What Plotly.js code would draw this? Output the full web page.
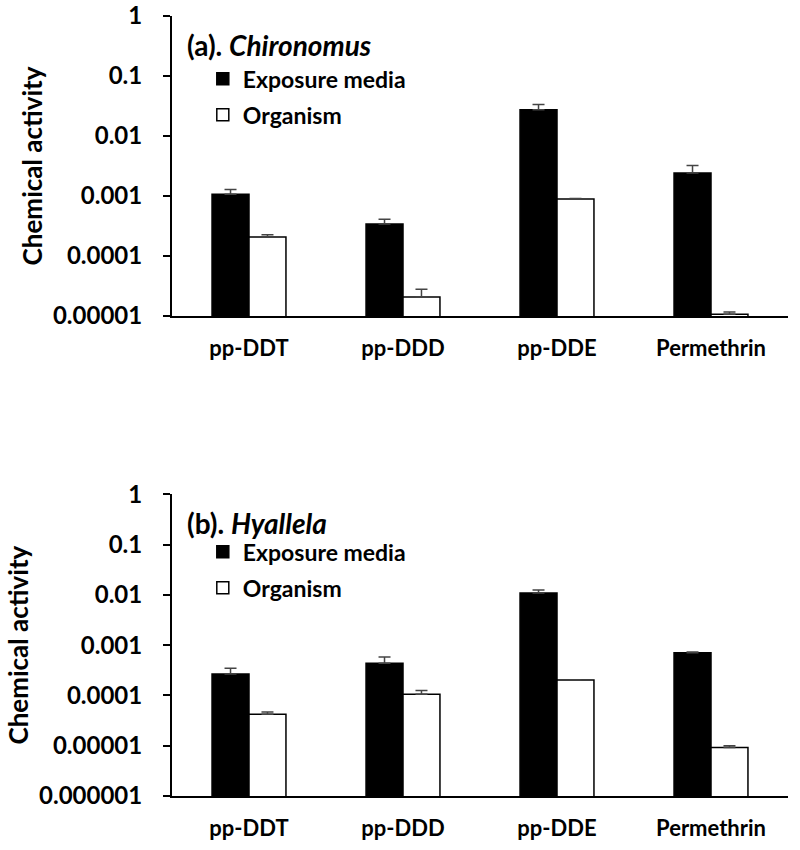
<!DOCTYPE html>
<html>
<head>
<meta charset="utf-8">
<script src="https://cdn.plot.ly/plotly-3.0.1.min.js"></script>
<style>html,body{margin:0;padding:0;background:#fff;}#chart{width:800px;height:850px;}</style>
</head>
<body>
<div id="chart"></div>
<script>
// Data
var categories = ["pp-DDT", "pp-DDD", "pp-DDE", "Permethrin"];
var seriesNames = ["Exposure media", "Organism"];
var panelTitles = ["(a). <i>Chironomus</i>", "(b). <i>Hyallela</i>"];

// Panel (a) Chironomus
var chiroMedia = [0.00107, 0.00034, 0.0275, 0.00242];
var chiroMediaErr = [0.00021, 0.00007, 0.006, 0.0008];
var chiroOrg = [0.000207, 0.0000207, 0.00089, 0.0000107];
var chiroOrgErr = [0.00002, 0.0000072, 0.00002, 0.000001];

// Panel (b) Hyallela
var hyalMedia = [0.000268, 0.000437, 0.0109, 0.00071];
var hyalMediaErr = [0.00008, 0.000145, 0.0016, 0.00002];
var hyalOrg = [0.0000423, 0.000106, 0.000203, 0.0000092];
var hyalOrgErr = [0.0000047, 0.000019, 0.000002, 0.0000008];

var noErr = [0, 0, 0, 0];

var yTickValsA = [1, 0.1, 0.01, 0.001, 0.0001, 0.00001];
var yTickTextA = ["1", "0.1", "0.01", "0.001", "0.0001", "0.00001"];
var yTickValsB = [1, 0.1, 0.01, 0.001, 0.0001, 0.00001, 0.000001];
var yTickTextB = ["1", "0.1", "0.01", "0.001", "0.0001", "0.00001", "0.000001"];

var FONT = "Lato, 'Open Sans', sans-serif";

function barTrace(y, err, name, fill, xa, ya, legend, group) {
  return {
    type: "bar", x: categories, y: y, name: name,
    xaxis: xa, yaxis: ya, legend: legend, legendgroup: group,
    marker: {color: fill, line: {color: "#000", width: 1.5}},
    error_y: {type: "data", symmetric: false, array: err, arrayminus: noErr,
              color: "#444", thickness: 1.5, width: 6},
    hoverinfo: "skip"
  };
}

var traces = [
  barTrace(chiroMedia, chiroMediaErr, seriesNames[0], "#000", "x", "y", "legend", "a1"),
  barTrace(chiroOrg, chiroOrgErr, seriesNames[1], "#fff", "x", "y", "legend", "a2"),
  barTrace(hyalMedia, hyalMediaErr, seriesNames[0], "#000", "x2", "y2", "legend2", "b1"),
  barTrace(hyalOrg, hyalOrgErr, seriesNames[1], "#fff", "x2", "y2", "legend2", "b2")
];

var xCommon = {
  showline: true, linecolor: "#000", linewidth: 2, ticks: "", showgrid: false, zeroline: false,
  tickfont: {family: FONT, size: 22, color: "#000", weight: "bold"},
  ticklabelstandoff: 12, fixedrange: true
};
function yCommon(vals, text, range, domain, anchor) {
  return {
    type: "log", range: range, domain: domain, anchor: anchor,
    tickvals: vals, ticktext: text,
    showline: true, linecolor: "#000", linewidth: 2,
    ticks: "outside", ticklen: 7, tickwidth: 2, tickcolor: "#000",
    showgrid: false, zeroline: false,
    tickfont: {family: FONT, size: 24, color: "#000", weight: "bold"},
    ticklabelstandoff: 16,
    title: {text: "Chemical activity", font: {family: FONT, size: 26, color: "#000", weight: "bold"}, standoff: 3},
    fixedrange: true
  };
}

var legendCommon = {
  font: {family: FONT, size: 23, color: "#000", weight: "bold"},
  bgcolor: "rgba(0,0,0,0)", borderwidth: 0,
  xanchor: "left", yanchor: "top", traceorder: "grouped", tracegroupgap: 3
};

var layout = {
  width: 800, height: 850,
  margin: {l: 172, r: 12, t: 16, b: 54},
  paper_bgcolor: "#fff", plot_bgcolor: "#fff",
  barmode: "group", bargap: 0.52, bargroupgap: 0,
  font: {family: FONT, color: "#000"},
  xaxis: Object.assign({anchor: "y", domain: [0, 1]}, xCommon),
  yaxis: yCommon(yTickValsA, yTickTextA, [-5, 0], [0.6154, 1], "x"),
  xaxis2: Object.assign({anchor: "y2", domain: [0, 1]}, xCommon),
  yaxis2: yCommon(yTickValsB, yTickTextB, [-6, 0], [0, 0.3868], "x2"),
  legend: Object.assign({x: 0.05, y: 0.947}, legendCommon),
  legend2: Object.assign({x: 0.05, y: 0.3405}, legendCommon),
  annotations: [
    {text: "<b>" + panelTitles[0] + "</b>", xref: "paper", yref: "paper", x: 0.021, y: 0.963,
     xanchor: "left", yanchor: "middle", showarrow: false, font: {family: FONT, size: 28, color: "#000"}},
    {text: "<b>" + panelTitles[1] + "</b>", xref: "paper", yref: "paper", x: 0.021, y: 0.3495,
     xanchor: "left", yanchor: "middle", showarrow: false, font: {family: FONT, size: 28, color: "#000"}}
  ],
  showlegend: true
};

Plotly.newPlot("chart", traces, layout, {displayModeBar: false, staticPlot: true});
</script>
</body>
</html>
